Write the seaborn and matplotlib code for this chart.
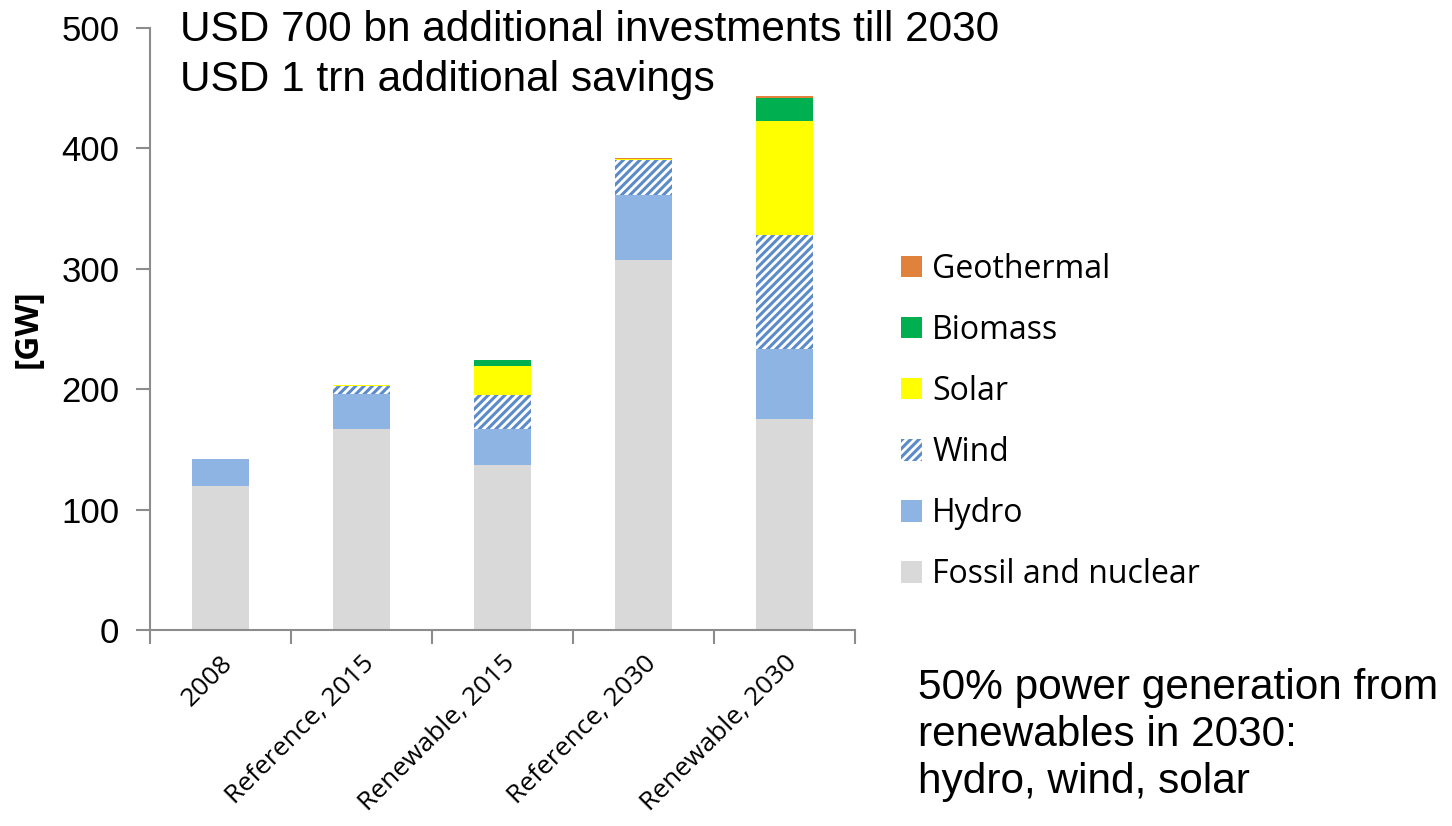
import numpy as np
import pandas as pd
import matplotlib
matplotlib.use("Agg")
import matplotlib.pyplot as plt
import seaborn as sns
from matplotlib.patches import Patch

categories = ["2008", "Reference, 2015", "Renewable, 2015", "Reference, 2030", "Renewable, 2030"]
fossil = [120, 167, 137, 307, 175]
hydro = [22, 29, 30, 54, 58]
wind = [0, 7, 28, 29.5, 95]
solar = [0.4, 0.8, 24, 0.8, 95]
biomass = [0, 0, 5, 0, 18.5]
geothermal = [0, 0, 0.6, 0.8, 2]

series_names = ["Fossil and nuclear", "Hydro", "Wind", "Solar", "Biomass", "Geothermal"]
series_vals = [fossil, hydro, wind, solar, biomass, geothermal]
colors = {"Fossil and nuclear": "#d9d9d9", "Hydro": "#8eb4e3", "Wind": "#ffffff",
          "Solar": "#ffff00", "Biomass": "#00b050", "Geothermal": "#e0823c"}
wind_hatch_color = "#5b8bc9"

sns.set_theme(style="white")
plt.rcParams["font.family"] = ["Liberation Sans", "DejaVu Sans"]
plt.rcParams["hatch.linewidth"] = 2.2
plt.rcParams["text.color"] = "black"
plt.rcParams["axes.labelcolor"] = "black"
plt.rcParams["xtick.color"] = "black"
plt.rcParams["ytick.color"] = "black"

fig = plt.figure(figsize=(14.52, 8.26), dpi=100)
ax = fig.add_axes([150/1452, 1-630/826, 705/1452, 602/826])

df = pd.DataFrame({"category": categories})
cum = np.zeros(len(categories))
cums = []
for name, vals in zip(series_names, series_vals):
    cum = cum + np.array(vals, dtype=float)
    cums.append(cum.copy())

# draw cumulative totals from top layer to bottom layer
for name, c in reversed(list(zip(series_names, cums))):
    d = df.copy()
    d["value"] = c
    if name == "Wind":
        sns.barplot(data=d, x="category", y="value", ax=ax, width=0.4,
                    color="white", edgecolor=wind_hatch_color, linewidth=0,
                    hatch="////", saturation=1, errorbar=None)
    else:
        sns.barplot(data=d, x="category", y="value", ax=ax, width=0.4,
                    color=colors[name], linewidth=0, saturation=1, errorbar=None)

ax.set_xlim(-0.5, 4.5)
ax.set_ylim(0, 500)
ax.set_yticks([0, 100, 200, 300, 400, 500])
ax.set_xlabel("")
ax.set_ylabel("[GW]", fontsize=24, fontweight="bold", family=["Open Sans", "DejaVu Sans"], labelpad=12)
for s in ["top", "right"]:
    ax.spines[s].set_visible(False)
for s in ["left", "bottom"]:
    ax.spines[s].set_color("#8c8c8c")
    ax.spines[s].set_linewidth(1.5)

ax.tick_params(axis="y", which="major", left=True, length=10, width=1.5, color="#8c8c8c",
               labelsize=25, pad=12, labelcolor="black")
ax.set_xticks(np.arange(-0.5, 5, 1), minor=True)
ax.tick_params(axis="x", which="major", bottom=False, pad=9, labelcolor="black")
ax.tick_params(axis="x", which="minor", bottom=True, length=10, width=1.5, color="#8c8c8c")
ax.set_xticks(range(len(categories)))
ax.set_xticklabels(categories, rotation=45, ha="right", rotation_mode="anchor",
                   fontsize=19, family=["Open Sans", "DejaVu Sans"])

handles = []
for name in reversed(series_names):
    if name == "Wind":
        handles.append(Patch(facecolor="white", edgecolor=wind_hatch_color, hatch="////", linewidth=0, label=name))
    else:
        handles.append(Patch(facecolor=colors[name], linewidth=0, label=name))
fig.legend(handles=handles, loc="center left", bbox_to_anchor=(872/1452, 1-422/826),
           frameon=False, prop={"family": ["Open Sans", "DejaVu Sans"], "size": 23},
           handlelength=0.66, handleheight=0.66, handletextpad=0.32, labelspacing=0.88)

fig.text(180/1452, 1-30/826, "USD 700 bn additional investments till 2030", fontsize=30.5,
         va="center", ha="left")
fig.text(180/1452, 1-80/826, "USD 1 trn additional savings", fontsize=30.5, va="center", ha="left")
fig.text(918/1452, 1-735/826, "50% power generation from\nrenewables in 2030:\nhydro, wind, solar",
         fontsize=30.5, va="center", ha="left", linespacing=1.22)

fig.savefig("out.png", dpi=100)
